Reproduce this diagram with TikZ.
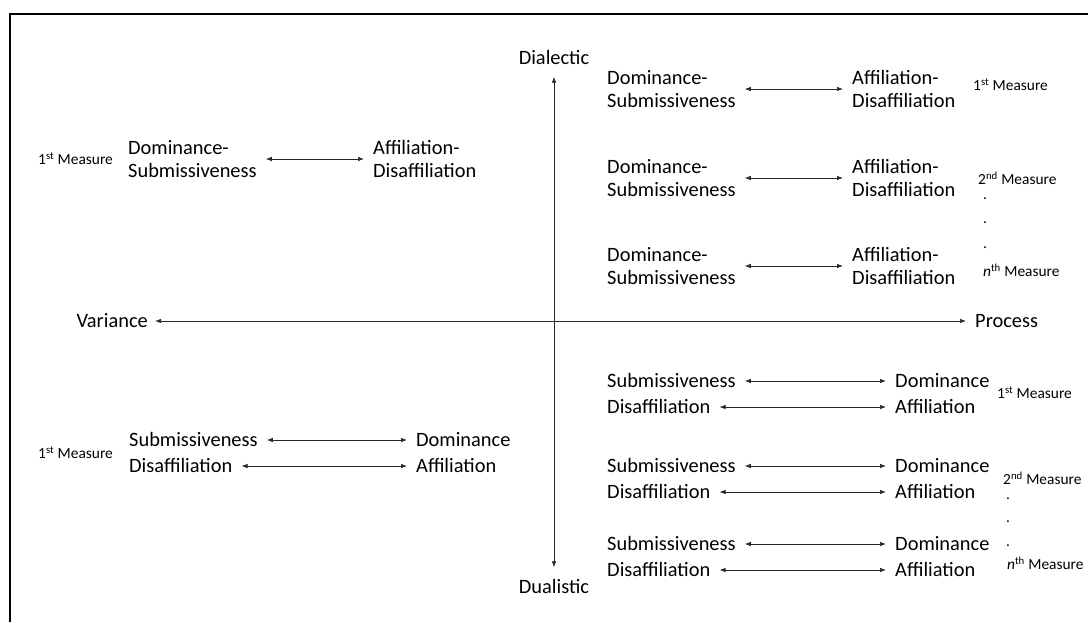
\documentclass[tikz,border=0pt]{standalone}
\usepackage{fontspec}
\setmainfont{Carlito}
\usetikzlibrary{arrows.meta}
\begin{document}
\begin{tikzpicture}[x=1pt,y=-1pt,
  big/.style={font=\fontsize{20.4}{23}\selectfont, inner xsep=9pt, inner ysep=1pt, anchor=west, align=left},
  one/.style={big, text height=13pt, text depth=0pt},
  small/.style={font=\fontsize{15.4}{17}\selectfont, inner sep=0pt, anchor=west},
  dotlab/.style={font=\fontsize{15.4}{17}\selectfont, inner sep=0pt, anchor=center, text height=2pt, text depth=0pt},
  axlab/.style={font=\fontsize{20.4}{23}\selectfont, inner sep=0pt, text height=13pt, text depth=0pt},
  dbl/.style={{Latex[length=6pt,width=4.5pt]}-{Latex[length=6pt,width=4.5pt]}, line width=0.7pt, draw=black!85},
  frameline/.style={line width=1.6pt, draw=black}]
\useasboundingbox (0,0) rectangle (1088,622);
\draw[frameline] (10,622) -- (10,14) -- (1088,14);

% axes
\node[axlab] (dial) at (554,58) {Dialectic};
\node[axlab] (dual) at (554,587) {Dualistic};
\node[axlab, anchor=east] (var) at (148,321) {Variance};
\node[axlab, anchor=west] (proc) at (975,321) {Process};
\draw[dbl, shorten <=7pt, shorten >=9pt] (var.east) -- (proc.west);
\draw[dbl, shorten <=12pt, shorten >=13pt] (dial.south) -- (dual.north);

% top left
\node[small] (tlm) at (38,159) {1\textsuperscript{st} Measure};
\node[big] (tla) at (119,159) {Dominance-\\Submissiveness};
\node[big] (tlb) at (364,159) {Affiliation-\\Disaffiliation};
\draw[dbl] (tla.east) -- (tlb.west);

% top right
\node[big] (tr1a) at (598,89) {Dominance-\\Submissiveness};
\node[big] (tr1b) at (843,89) {Affiliation-\\Disaffiliation};
\draw[dbl] (tr1a.east) -- (tr1b.west);
\node[small] (tr1m) at (973,85) {1\textsuperscript{st} Measure};

\node[big] (tr2a) at (598,178) {Dominance-\\Submissiveness};
\node[big] (tr2b) at (843,178) {Affiliation-\\Disaffiliation};
\draw[dbl] (tr2a.east) -- (tr2b.west);
\node[small] (tr2m) at (978,178) {2\textsuperscript{nd} Measure};
\node[dotlab] (trd1) at (985,198) {.};
\node[dotlab] (trd2) at (985,222) {.};
\node[dotlab] (trd3) at (985,247) {.};

\node[big] (tr3a) at (598,266) {Dominance-\\Submissiveness};
\node[big] (tr3b) at (843,266) {Affiliation-\\Disaffiliation};
\draw[dbl] (tr3a.east) -- (tr3b.west);
\node[small] (tr3m) at (983,270) {\textit{n}\textsuperscript{th} Measure};

% bottom left
\node[small] (blm) at (38,453) {1\textsuperscript{st} Measure};
\node[one] (bls) at (120,440) {Submissiveness};
\node[one] (bld) at (120,466) {Disaffiliation};
\node[one] (blo) at (407,440) {Dominance};
\node[one] (blf) at (407,466) {Affiliation};
\draw[dbl] (bls.east) -- (blo.west);
\draw[dbl] (bld.east) -- (blf.west);

% bottom right
\node[one] (br1s) at (598,381) {Submissiveness};
\node[one] (br1d) at (598,407) {Disaffiliation};
\node[one] (br1o) at (886,381) {Dominance};
\node[one] (br1f) at (886,407) {Affiliation};
\draw[dbl] (br1s.east) -- (br1o.west);
\draw[dbl] (br1d.east) -- (br1f.west);
\node[small] (br1m) at (997,393) {1\textsuperscript{st} Measure};

\node[one] (br2s) at (598,466) {Submissiveness};
\node[one] (br2d) at (598,492) {Disaffiliation};
\node[one] (br2o) at (886,466) {Dominance};
\node[one] (br2f) at (886,492) {Affiliation};
\draw[dbl] (br2s.east) -- (br2o.west);
\draw[dbl] (br2d.east) -- (br2f.west);
\node[small] (br2m) at (1003,478) {2\textsuperscript{nd} Measure};
\node[dotlab] (brd1) at (1008,498) {.};
\node[dotlab] (brd2) at (1008,521) {.};
\node[dotlab] (brd3) at (1008,545) {.};

\node[one] (br3s) at (598,544) {Submissiveness};
\node[one] (br3d) at (598,570) {Disaffiliation};
\node[one] (br3o) at (886,544) {Dominance};
\node[one] (br3f) at (886,570) {Affiliation};
\draw[dbl] (br3s.east) -- (br3o.west);
\draw[dbl] (br3d.east) -- (br3f.west);
\node[small] (br3m) at (1007,563) {\textit{n}\textsuperscript{th} Measure};
\end{tikzpicture}
\end{document}
